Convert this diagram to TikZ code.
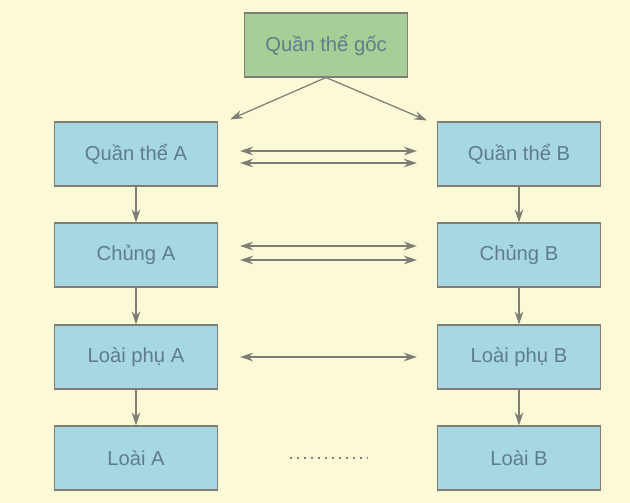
\documentclass[tikz,border=0pt]{standalone}
\usepackage{fontspec}
\setmainfont{Liberation Sans}
\usetikzlibrary{arrows.meta}
\definecolor{paper}{HTML}{FCF9D6}
\definecolor{boxblue}{HTML}{A8D7E4}
\definecolor{boxgreen}{HTML}{A6CE96}
\definecolor{edge}{HTML}{7E7E76}
\definecolor{ink}{HTML}{5E7D8A}
\definecolor{wire}{HTML}{7E7E76}
\begin{document}
\begin{tikzpicture}[
  x=0.02cm, y=-0.02cm,
  stage/.style={rectangle, draw=edge, fill=boxblue, line width=0.6pt, minimum width=3.26cm, minimum height=1.28cm, inner sep=0pt, text=ink, font=\fontsize{11.5}{13}\selectfont},
  origin/.style={stage, fill=boxgreen},
  tip/.style={-{Stealth[length=2.6mm, width=1.7mm]}, wire, line width=0.7pt},
  both/.style={{Stealth[length=2.6mm, width=1.7mm]}-{Stealth[length=2.6mm, width=1.7mm]}, wire, line width=0.7pt, shorten <=4.4mm, shorten >=4mm},
]
  \fill[paper] (0,0) rectangle (630,503);
  \useasboundingbox (0,0) rectangle (630,503);
  % root population
  \node[origin] (root) at (326,45) {Quần thể gốc};
  % left branch
  \node[stage] (qA) at (136,154) {Quần thể A};
  \node[stage] (cA) at (136,255) {Chủng A};
  \node[stage] (pA) at (136,357) {Loài phụ A};
  \node[stage] (lA) at (136,458) {Loài A};
  % right branch
  \node[stage] (qB) at (519,154) {Quần thể B};
  \node[stage] (cB) at (519,255) {Chủng B};
  \node[stage] (pB) at (519,357) {Loài phụ B};
  \node[stage] (lB) at (519,458) {Loài B};
  % splitting
  \draw[tip] (root.south) -- ([shift={(2.4mm,0.4mm)}]qA.north east);
  \draw[tip] (root.south) -- ([shift={(-2mm,0.2mm)}]qB.north west);
  % descent
  \draw[tip] (qA) -- (cA);
  \draw[tip] (cA) -- (pA);
  \draw[tip] (pA) -- (lA);
  \draw[tip] (qB) -- (cB);
  \draw[tip] (cB) -- (pB);
  \draw[tip] (pB) -- (lB);
  % exchange between branches
  \draw[both] ([yshift=0.06cm]qA.east) -- ([yshift=0.06cm]qB.west);
  \draw[both] ([yshift=-0.18cm]qA.east) -- ([yshift=-0.18cm]qB.west);
  \draw[both] ([yshift=0.18cm]cA.east) -- ([yshift=0.18cm]cB.west);
  \draw[both] ([yshift=-0.1cm]cA.east) -- ([yshift=-0.1cm]cB.west);
  \draw[both] (pA) -- (pB);
  \draw[wire, line width=0.9pt, dash pattern=on 0.9pt off 3.1pt, shorten <=1.44cm, shorten >=1.38cm] (lA) -- (lB);
\end{tikzpicture}
\end{document}
